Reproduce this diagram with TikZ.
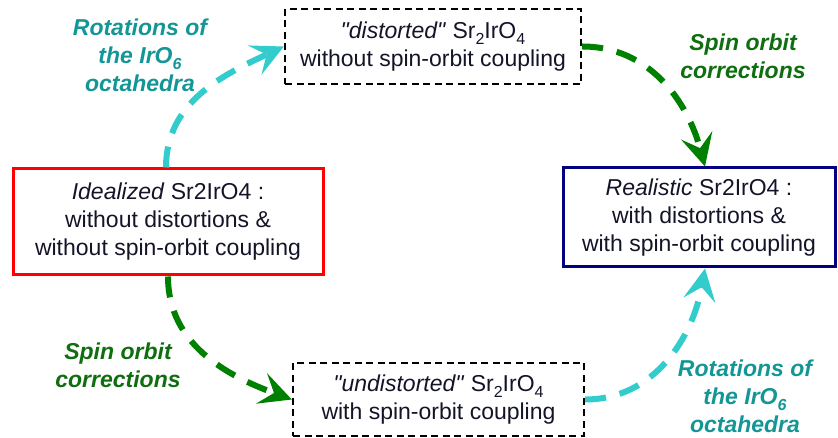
\documentclass[tikz,border=0pt]{standalone}
\usepackage{fontspec}
\setmainfont{Liberation Sans}[Ligatures=TeXOff]
\usetikzlibrary{arrows.meta}
\definecolor{arrcyan}{RGB}{51,204,204}
\definecolor{arrgreen}{RGB}{0,128,0}
\definecolor{lblteal}{RGB}{20,150,150}
\definecolor{lblgreen}{RGB}{15,110,15}
\definecolor{boxnavy}{RGB}{0,0,128}
\definecolor{txtdark}{RGB}{20,20,40}
\newcommand{\sq}{\symbol{34}}
\newcommand{\subx}[1]{\raisebox{-0.28em}{\fontsize{16}{16}\selectfont #1}}
\begin{document}
\begin{tikzpicture}[x=1pt,y=1pt,
  txt/.style={font=\fontsize{23}{28}\selectfont, text=txtdark, align=center, inner sep=0pt},
  dbox/.style={txt, draw=black, line width=2.3pt, dash pattern=on 7pt off 4.5pt},
  sbox/.style={txt, line width=3pt},
  lbl/.style={font=\fontsize{23}{28}\selectfont\bfseries\itshape, align=center, inner sep=0pt},
  flow/.style={line width=6pt, dash pattern=on 21pt off 14pt,
    -{Stealth[length=32pt,width=32pt,inset=13pt]}},
]
\useasboundingbox (0,0) rectangle (838,438);
\node[dbox, minimum width=296pt, minimum height=75pt] (top) at (433,391.5)
  {\textit{\sq distorted\sq} Sr\subx{2}IrO\subx{4}\\without spin-orbit coupling};
\node[dbox, minimum width=291pt, minimum height=73pt] (bot) at (438.5,38.5)
  {\textit{\sq undistorted\sq} Sr\subx{2}IrO\subx{4}\\with spin-orbit coupling};
\node[sbox, draw=red, minimum width=310pt, minimum height=106pt] (ideal) at (168,216)
  {\textit{Idealized} Sr2IrO4 :\\without distortions \&\\without spin-orbit coupling};
\node[sbox, draw=boxnavy, minimum width=272pt, minimum height=99pt] (real) at (699,220.5)
  {\textit{Realistic} Sr2IrO4 :\\with distortions \&\\with spin-orbit coupling};

\draw[flow, arrcyan] ([xshift=-2pt]ideal.north) to[out=90,in=205] (top.west);
\draw[flow, arrgreen] (top.east) to[out=0,in=105] ([xshift=6pt]real.north);
\draw[flow, arrgreen] (ideal.south) to[out=-90,in=160] (bot.west);
\draw[flow, arrcyan] (bot.east) to[out=0,in=-100] ([xshift=6pt]real.south);

\node[lbl, text=lblteal] (l1) at (140,383) {Rotations of\\the IrO\subx{6}\\octahedra};
\node[lbl, text=lblgreen] (l2) at (743,381.5) {Spin orbit\\corrections};
\node[lbl, text=lblgreen] (l3) at (118,73) {Spin orbit\\corrections};
\node[lbl, text=lblteal] (l4) at (745,42) {Rotations of\\the IrO\subx{6}\\octahedra};
\end{tikzpicture}
\end{document}
